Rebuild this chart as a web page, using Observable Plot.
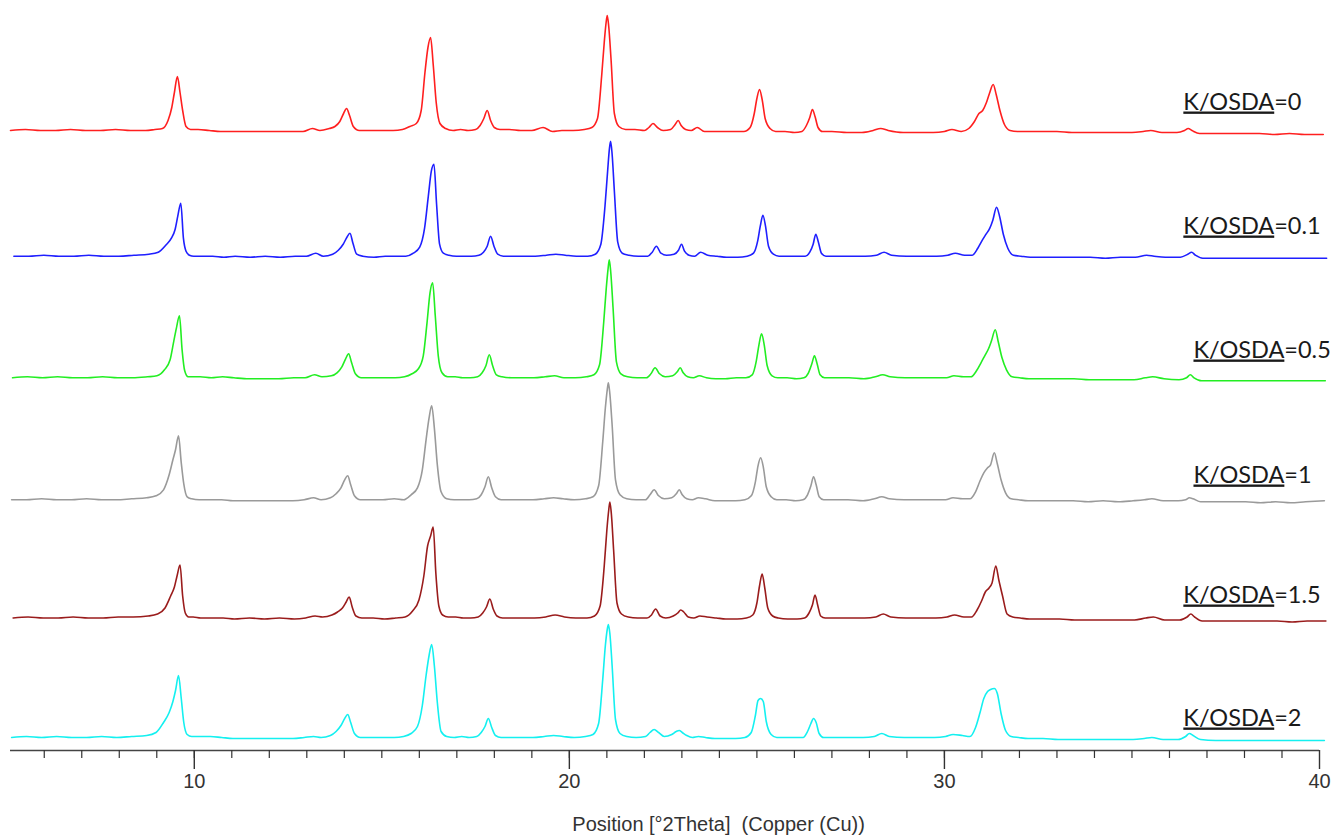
<!DOCTYPE html>
<html>
<head>
<meta charset="utf-8">
<script src="https://cdn.jsdelivr.net/npm/d3@7"></script>
<script src="https://cdn.jsdelivr.net/npm/@observablehq/plot@0.6"></script>
<style>
  html, body { margin: 0; padding: 0; background: #fff; }
  #chart { width: 1336px; height: 837px; }
</style>
</head>
<body>
<div id="chart"></div>
<script>
// ---- Data ----
const samples = ["K/OSDA=0", "K/OSDA=0.1", "K/OSDA=0.5", "K/OSDA=1", "K/OSDA=1.5", "K/OSDA=2"];
const colors  = ["#ff1f1f", "#1f1fff", "#22ee22", "#9a9a9a", "#9a1c1c", "#14f0f0"];

// common 2θ grid (deg)
const twoTheta = [
  5.1, 5.5, 5.9, 6.3, 6.7, 7.1, 7.5, 7.9, 8.3, 8.7, 8.95,
  9.15, 9.3, 9.4, 9.47, 9.55, 9.62, 9.69, 9.78, 9.9,
  10.1, 10.4, 10.7, 11.0, 11.4, 11.8, 12.2, 12.6, 12.9,
  13.15, 13.35,
  13.6, 13.75, 13.88, 13.98, 14.06, 14.14, 14.24, 14.4,
  14.7, 15.0, 15.3, 15.55,
  15.75, 15.92, 16.05, 16.15, 16.23, 16.3, 16.37, 16.45, 16.55, 16.7,
  16.9, 17.1, 17.3, 17.5,
  17.62, 17.72, 17.81, 17.9, 18.0, 18.15,
  18.4, 18.7, 19.0, 19.3, 19.55, 19.8, 20.1, 20.4, 20.6,
  20.75, 20.86, 20.93, 20.98, 21.01, 21.05, 21.11, 21.2, 21.32, 21.5,
  21.75, 22.0,
  22.12, 22.23, 22.35, 22.5,
  22.7, 22.82, 22.9, 22.98, 23.1,
  23.25, 23.41, 23.6, 23.85, 24.1, 24.4, 24.65,
  24.82, 24.93, 25.0, 25.07, 25.14, 25.22, 25.35, 25.5,
  25.75, 26.0, 26.2,
  26.32, 26.41, 26.48, 26.55, 26.63, 26.75,
  27.0, 27.4, 27.8, 28.1, 28.3, 28.5, 28.9, 29.3, 29.7, 30.0, 30.2, 30.45,
  30.65, 30.8, 30.92, 31.02, 31.12, 31.2, 31.3, 31.38, 31.48, 31.6, 31.75, 31.95,
  32.2, 32.6, 33.0, 33.4, 33.8, 34.2, 34.6, 35.0, 35.3, 35.5, 35.8, 36.2, 36.4, 36.5, 36.6, 36.8, 37.2, 37.6, 38.0, 38.4, 38.8, 39.2, 39.6, 40.1
];

// per-sample peak displacement (deg 2θ)
const shift = [0, 0.09, 0.055, 0.03, 0.07, 0.03];

// intensities (a.u.), same order as twoTheta
const int_0 = [
  0, 1, 0, 0, 1, 0, 0, 1, 0, 0, 1,
  2, 10, 23, 38, 54, 38, 20, 4, 1,
  1, 0, -1, -1, -1, -1, -1, -1, -1,
  2, 0,
  2, 4, 9, 17, 22, 15, 4, 0,
  0, 0, 0, 1,
  4, 7, 20, 58, 83, 93, 66, 28, 7, 2,
  0, 1, 0, 1,
  5, 12, 20, 10, 3, 1,
  1, 0, 0, 3, -1, 0, 0, 1, 3,
  12, 54, 88, 108, 115, 104, 72, 17, 4, 1,
  1, 0,
  3, 7, 3, 0,
  1, 6, 10, 5, 1,
  0, 3, -1, -1, -1, -1, -1,
  3, 17, 32, 41, 31, 12, 2, -1,
  -1, -2, -1,
  5, 13, 21, 14, 3, -1,
  -1, -2, -2, 0, 2, 0, -2, -2, -2, -1, 1, -1,
  2, 9, 17, 20, 28, 37, 46, 36, 20, 6, 0, -1,
  -1, -1, -1, -2, -2, -2, -2, -2, -1, 0, -2, -2, 0, 2, 0, -3, -3, -3, -3, -3, -4, -3, -4, -4
];
const int_01 = [
  0, 0, 1, 0, 0, 1, 0, 0, 1, 2, 4,
  11, 18, 27, 40, 53, 18, 5, 1, 0,
  0, 0, -1, 0, -1, 0, -1, 0, 0,
  3, 0,
  2, 6, 12, 19, 23, 13, 2, 0,
  -1, 0, 0, 0,
  3, 9, 28, 60, 85, 92, 52, 12, 3, 1,
  0, 0, 0, 1,
  4, 10, 20, 10, 2, 0,
  0, 0, 0, 1, 2, 1, 0, 0, 2,
  12, 50, 85, 108, 115, 102, 65, 14, 3, 1,
  0, 0,
  4, 10, 3, 1,
  2, 6, 12, 5, 1,
  0, 4, 1, 0, -1, -1, 0,
  3, 15, 30, 41, 30, 10, 2, 0,
  0, 0, 0,
  4, 12, 22, 14, 3, 0,
  0, 0, 0, 1, 4, 1, 0, 0, 0, 1, 3, 1,
  1, 8, 16, 22, 28, 36, 49, 40, 22, 8, 1, 0,
  -1, -1, -1, -1, -1, -2, -1, -1, 1, 0, -1, -1, 2, 4, 1, -2, -2, -2, -2, -2, -2, -2, -2, -2
];
const int_05 = [
  0, 1, 0, 1, 0, 0, 1, 0, 0, 1, 2,
  8, 18, 37, 50, 62, 28, 7, 1, 1,
  1, 0, 1, 0, -1, -1, -1, 0, 0,
  3, 1,
  2, 5, 11, 19, 24, 15, 4, 0,
  0, 0, 0, 1,
  4, 9, 22, 55, 85, 95, 62, 22, 5, 1,
  1, 0, 0, 1,
  5, 12, 23, 12, 3, 1,
  0, 0, 0, 1, 2, 0, 0, 1, 3,
  13, 55, 90, 110, 118, 105, 70, 16, 4, 1,
  0, 0,
  4, 10, 4, 1,
  2, 6, 10, 5, 1,
  0, 2, 0, -1, -1, 0, 0,
  3, 17, 33, 44, 33, 12, 2, 0,
  0, -1, 0,
  5, 14, 22, 14, 3, 0,
  0, 0, -1, 1, 3, 1, 0, 0, 0, 0, 2, 1,
  1, 7, 15, 22, 29, 37, 48, 36, 20, 8, 1, 0,
  -1, -1, -1, -1, -2, -2, -2, -2, 0, 1, -1, -2, 0, 3, 0, -3, -3, -3, -3, -3, -3, -3, -3, -3
];
const int_1 = [
  0, 0, 1, 0, 0, 1, 0, 0, 1, 2, 4,
  10, 25, 40, 50, 64, 38, 16, 3, 1,
  0, 0, 0, -1, -1, -1, -1, -1, 0,
  2, 0,
  2, 6, 12, 20, 24, 15, 4, 0,
  0, 0, 1, 0,
  5, 12, 30, 60, 82, 94, 72, 35, 8, 1,
  0, 0, 0, 1,
  5, 13, 23, 12, 3, 0,
  0, 0, 0, 1, 2, 1, 0, 1, 3,
  14, 58, 92, 110, 117, 106, 75, 20, 5, 1,
  0, 0,
  5, 10, 4, 1,
  2, 6, 10, 5, 1,
  0, 2, 1, -1, -1, -1, 0,
  4, 18, 34, 42, 33, 13, 3, 0,
  0, -1, 0,
  5, 14, 23, 15, 3, 0,
  0, 0, -1, 1, 3, 1, 0, 0, 0, 0, 2, 1,
  1, 8, 19, 27, 32, 35, 47, 36, 20, 7, 1, 0,
  -1, -1, -1, -1, -2, -1, -2, -1, 0, 1, -1, -1, 0, 2, 1, -2, -2, -2, -2, -3, -2, -3, -2, -1
];
const int_15 = [
  0, 1, 0, 0, 1, 0, 0, 1, 1, 2, 4,
  10, 22, 31, 42, 53, 22, 5, 1, 1,
  0, 0, 0, -1, 0, -1, 0, -1, 0,
  2, 1,
  3, 6, 10, 16, 21, 11, 2, 0,
  0, -1, 0, 1,
  7, 18, 42, 72, 82, 91, 45, 12, 3, 1,
  1, 0, 0, 1,
  5, 11, 19, 9, 2, 0,
  0, 0, 0, 1, 3, 1, 0, 0, 2,
  12, 52, 88, 108, 116, 104, 68, 15, 4, 1,
  0, 0,
  3, 9, 2, 0,
  2, 5, 8, 6, 1,
  0, 2, 1, 0, -1, -1, 0,
  3, 15, 32, 44, 30, 10, 2, 0,
  -1, -1, 0,
  5, 13, 23, 13, 2, 0,
  0, 0, 0, 1, 4, 1, 0, 0, 0, 1, 3, 1,
  1, 8, 17, 26, 30, 35, 52, 38, 22, 4, 1, 0,
  -1, -1, -1, -2, -2, -2, -2, -2, 0, 1, -2, -2, 1, 4, 1, -3, -3, -3, -3, -3, -3, -4, -3, -3
];
const int_2 = [
  0, 1, 0, 1, 0, 0, 1, 0, 1, 2, 5,
  15, 25, 36, 47, 62, 40, 15, 3, 1,
  1, 1, 0, -1, -1, -1, -1, -1, 0,
  1, 0,
  2, 6, 12, 19, 23, 15, 4, 0,
  0, 0, 0, 1,
  4, 11, 32, 62, 82, 93, 72, 35, 6, 1,
  0, 1, 0, 1,
  5, 11, 19, 10, 2, 0,
  0, 0, 0, 1, 2, 1, 0, 1, 3,
  14, 58, 92, 108, 113, 104, 72, 18, 4, 1,
  0, 1,
  5, 8, 5, 1,
  3, 6, 7, 5, 2,
  0, 1, 0, -1, -1, -1, 0,
  5, 22, 37, 39, 36, 16, 3, 0,
  0, 0, 0,
  6, 14, 19, 15, 4, 0,
  0, 0, 0, 1, 4, 1, 0, 0, 0, 1, 3, 2,
  1, 10, 25, 39, 46, 48, 49, 44, 24, 7, 1, 0,
  -1, -1, -2, -2, -2, -2, -2, -2, -1, 0, -2, -2, 1, 4, 2, -2, -3, -3, -3, -3, -3, -3, -3, -3
];
const intensities = [int_0, int_01, int_05, int_1, int_15, int_2];

const xTicksMajor = [10, 20, 30, 40];
const xTitle = "Position [°2Theta]\u00a0 (Copper (Cu))";

// ---- Layout (stacking offsets & label placement, not data) ----
const offsets = [620, 494.3, 372.7, 250.7, 132.5, 13];
const labelX = [36.37, 36.37, 36.64, 36.64, 36.37, 36.37];
const labelY = [641, 517, 393, 268, 148, 25];

const rows = [];
samples.forEach((s, i) => {
  twoTheta.forEach((t, j) => {
    rows.push({sample: s, x: t + shift[i], y: intensities[i][j] + offsets[i]});
  });
});
const labelRows = samples.map((s, i) => ({sample: s, x: labelX[i], y: labelY[i]}));

const plot = Plot.plot({
  width: 1336,
  height: 837,
  marginLeft: 10,
  marginRight: 17,
  marginTop: 0,
  marginBottom: 87,
  style: {fontFamily: "'Liberation Sans', Arial, sans-serif", background: "#fff", overflow: "visible"},
  x: {domain: [5.1, 40], label: null},
  y: {domain: [0, 750], axis: null, label: null},
  color: {domain: samples, range: colors},
  marks: [
    Plot.ruleY([0], {stroke: "#444", strokeWidth: 1.6}),
    Plot.axisX(d3.range(6, 40), {tickSize: 8, tickFormat: () => "", stroke: "#333", strokeWidth: 1.2, label: null}),
    Plot.axisX(xTicksMajor, {tickSize: 19, tickPadding: 4, fontSize: 20, fill: "#333", stroke: "#333", strokeWidth: 1.4, label: null}),
    Plot.line(rows, {x: "x", y: "y", z: "sample", stroke: "sample", strokeWidth: 1.6, curve: "monotone-x"}),
    Plot.text(labelRows, {x: "x", y: "y", text: "sample", textAnchor: "start", lineAnchor: "bottom",
      fontSize: 23.5, fontFamily: "Lato, 'Open Sans', sans-serif", fill: "#1a1a1a"}),
    Plot.text([{x: 23.98, y: 0, t: xTitle}], {x: "x", y: "y", text: "t", dy: 80, lineAnchor: "bottom",
      fontSize: 20, fill: "#333"})
  ]
});

// underline the "K/OSDA" part of each sample label
const svgNS = "http://www.w3.org/2000/svg";
plot.querySelectorAll("text").forEach(t => {
  const s = t.textContent;
  if (s.startsWith("K/OSDA=")) {
    const idx = s.indexOf("=");
    while (t.firstChild) t.removeChild(t.firstChild);
    const u = document.createElementNS(svgNS, "tspan");
    u.textContent = s.slice(0, idx);
    u.setAttribute("text-decoration", "underline");
    u.style.textDecoration = "underline";
    t.appendChild(u);
    t.appendChild(document.createTextNode(s.slice(idx)));
  }
});

document.getElementById("chart").appendChild(plot);
</script>
</body>
</html>
